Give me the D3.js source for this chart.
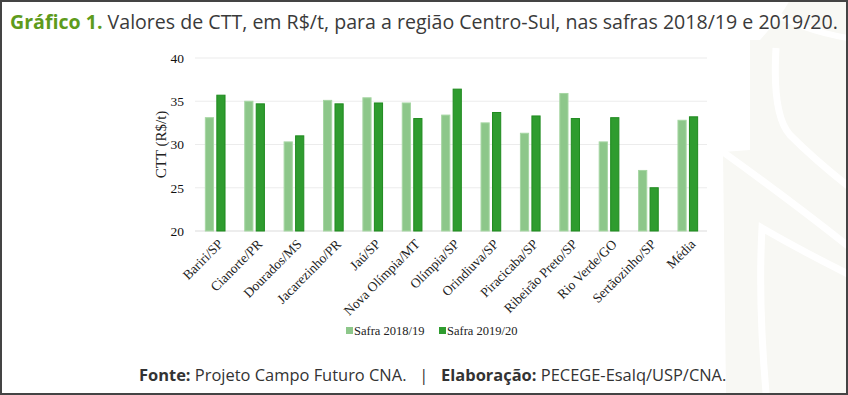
<!DOCTYPE html>
<html>
<head>
<meta charset="utf-8">
<script src="https://cdn.jsdelivr.net/npm/d3@7"></script>
<style>
  html, body { margin: 0; padding: 0; background: #fff; }
  svg { display: block; }
</style>
</head>
<body>
<div id="chart"></div>
<script>
(function () {
  'use strict';

  // Chart data (R$/t)
  const CATEGORIES = ['Bariri/SP', 'Cianorte/PR', 'Dourados/MS', 'Jacarezinho/PR', 'Jaú/SP',
    'Nova Olímpia/MT', 'Olímpia/SP', 'Orindiuva/SP', 'Piracicaba/SP', 'Ribeirão Preto/SP',
    'Rio Verde/GO', 'Sertãozinho/SP', 'Média'];
  const SERIES = ['Safra 2018/19', 'Safra 2019/20'];
  const SAFRA_1819 = [33.1, 35.0, 30.3, 35.1, 35.4, 34.8, 33.4, 32.5, 31.3, 35.9, 30.3, 27.0, 32.8];
  const SAFRA_1920 = [35.7, 34.7, 31.0, 34.7, 34.8, 33.0, 36.4, 33.7, 33.3, 33.0, 33.1, 25.0, 33.2];
  const Y_TICKS = [20, 25, 30, 35, 40];

  const COLORS = ['#8dc78a', '#2f9c2f'];
  const STROKES = ['#a6d6a3', '#1f8a1f'];

  const W = 848, H = 395;
  const svg = d3.select('#chart').append('svg')
    .attr('width', W).attr('height', H)
    .attr('viewBox', `0 0 ${W} ${H}`);

  // Background watermark (faint leaf shapes on the right)
  const deco = svg.append('g');
  deco.append('path')
    .attr('d', 'M750,40 L750,150 L723,152 L726,393 L848,393 L848,40 Z M790,0 L848,0 L848,40 L760,40 Q780,18 790,0 Z')
    .attr('fill', '#f8f8f4');
  deco.append('path')
    .attr('d', 'M776,48 Q772,115 790,135 Q815,160 848,186')
    .attr('fill', 'none').attr('stroke', '#fff').attr('stroke-width', 7);
  deco.append('path')
    .attr('d', 'M723,152 Q790,200 848,246')
    .attr('fill', 'none').attr('stroke', '#fff').attr('stroke-width', 7);
  deco.append('path')
    .attr('d', 'M766,393 Q758,300 762,228 Q800,250 848,274')
    .attr('fill', 'none').attr('stroke', '#fff').attr('stroke-width', 7);
  deco.append('path')
    .attr('d', 'M770,10 Q800,30 848,38')
    .attr('fill', 'none').attr('stroke', '#fff').attr('stroke-width', 6);

  // Title
  const title = svg.append('text')
    .attr('x', 10).attr('y', 29)
    .attr('font-family', '"Open Sans", "Noto Sans", sans-serif')
    .attr('font-size', 18).attr('fill', '#3a3a3a');
  title.append('tspan').attr('font-weight', 700).attr('fill', '#5e9b1c').text('Gráfico 1.');
  title.append('tspan').text(' Valores de CTT, em R$/t, para a região Centro-Sul, nas safras 2018/19 e 2019/20.');
  const tw = title.node().getComputedTextLength();
  title.attr('font-size', 18 * 828 / tw);

  // Plot area
  const plot = { left: 195, right: 707, top: 58, bottom: 231 };

  const x0 = d3.scaleBand().domain(CATEGORIES).range([plot.left, plot.right]);
  const bw = x0.bandwidth();
  const x1 = d3.scaleBand().domain(SERIES).range([bw * 0.25, bw * 0.775]).paddingInner(0.2);
  const y = d3.scaleLinear().domain([20, 40]).range([plot.bottom, plot.top]);

  const serif = '"Liberation Serif", "Times New Roman", serif';

  // Gridlines
  svg.append('g').selectAll('line').data(Y_TICKS).join('line')
    .attr('x1', plot.left).attr('x2', plot.right)
    .attr('y1', d => y(d)).attr('y2', d => y(d))
    .attr('stroke', d => d === 20 ? '#dcdcdc' : '#ececec').attr('stroke-width', 1.2);

  // Y axis (labels only)
  const yAxis = svg.append('g')
    .attr('transform', `translate(${plot.left - 11},0)`)
    .call(d3.axisLeft(y).tickValues(Y_TICKS).tickSize(0).tickPadding(0));
  yAxis.select('.domain').remove();
  yAxis.selectAll('text')
    .attr('font-family', serif).attr('font-size', 13.5).attr('fill', '#111');

  svg.append('text')
    .attr('transform', `translate(166,${(plot.top + plot.bottom) / 2}) rotate(-90)`)
    .attr('text-anchor', 'middle')
    .attr('font-family', serif).attr('font-size', 15).attr('fill', '#222')
    .text('CTT (R$/t)');

  // Bars
  const rows = CATEGORIES.map((c, i) => ({ cat: c, vals: [SAFRA_1819[i], SAFRA_1920[i]] }));
  const groups = svg.append('g').selectAll('g').data(rows).join('g')
    .attr('transform', d => `translate(${x0(d.cat)},0)`);
  groups.selectAll('rect').data(d => d.vals.map((v, k) => ({ v, k }))).join('rect')
    .attr('x', d => x1(SERIES[d.k]) + 0.5)
    .attr('width', x1.bandwidth() - 1)
    .attr('y', d => y(d.v))
    .attr('height', d => y(20) - y(d.v))
    .attr('fill', d => COLORS[d.k])
    .attr('stroke', d => STROKES[d.k]).attr('stroke-width', 1);

  // X axis labels
  const xAxis = svg.append('g')
    .attr('transform', `translate(0,${plot.bottom})`)
    .call(d3.axisBottom(x0).tickSize(0).tickPadding(0));
  xAxis.select('.domain').remove();
  xAxis.selectAll('text')
    .attr('font-family', serif).attr('font-size', 13.5).attr('fill', '#222')
    .attr('text-anchor', 'end')
    .attr('dy', 0)
    .attr('transform', 'translate(9,14) rotate(-45)');

  // Legend
  const legend = svg.append('g');
  const legendX = [346, 439];
  SERIES.forEach((s, k) => {
    legend.append('rect')
      .attr('x', legendX[k]).attr('y', 327)
      .attr('width', 7).attr('height', 7)
      .attr('fill', COLORS[k]);
    legend.append('text')
      .attr('x', legendX[k] + 8).attr('y', 335)
      .attr('font-family', serif).attr('font-size', 12.5).attr('fill', '#222')
      .text(s);
  });

  // Source footer
  const foot = svg.append('text')
    .attr('x', 139).attr('y', 381)
    .attr('font-family', '"Open Sans", "Noto Sans", sans-serif')
    .attr('font-size', 14).attr('fill', '#333');
  foot.append('tspan').attr('font-weight', 700).text('Fonte:');
  foot.append('tspan').text(' Projeto Campo Futuro CNA.\u00a0\u00a0\u00a0|\u00a0\u00a0\u00a0');
  foot.append('tspan').attr('font-weight', 700).text('Elaboração:');
  foot.append('tspan').text(' PECEGE-Esalq/USP/CNA.');
  const fw = foot.node().getComputedTextLength();
  foot.attr('font-size', 14 * 588 / fw);

  // Frame
  svg.append('rect')
    .attr('x', 1).attr('y', 1).attr('width', W - 2).attr('height', H - 2)
    .attr('fill', 'none').attr('stroke', '#444').attr('stroke-width', 2);
})();
</script>
</body>
</html>
